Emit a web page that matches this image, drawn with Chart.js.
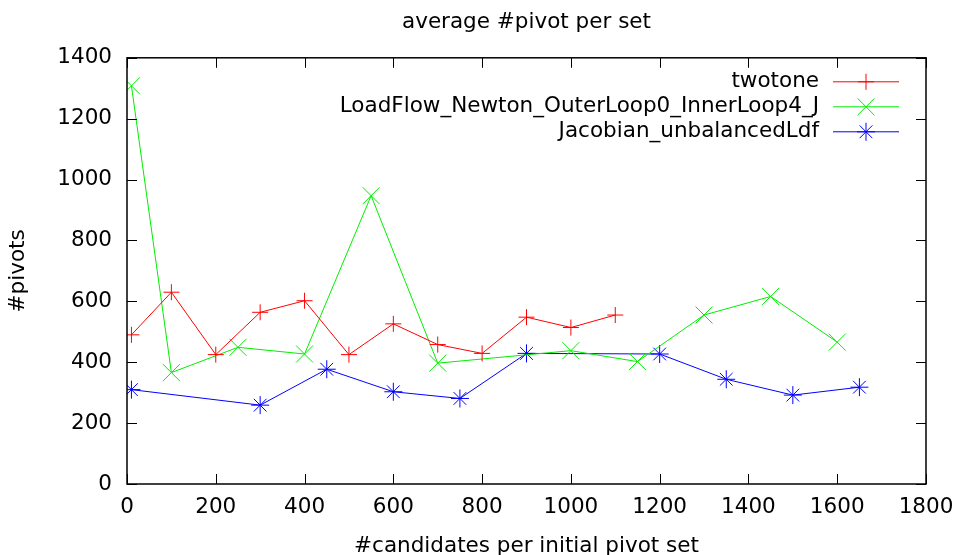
<!DOCTYPE html>
<html>
<head>
<meta charset="utf-8">
<title>average #pivot per set</title>
<script src="https://cdn.jsdelivr.net/npm/chart.js@4/dist/chart.umd.min.js"></script>
<style>
  html, body { margin: 0; padding: 0; background: #fff; }
  canvas { display: block; }
</style>
</head>
<body>
<canvas id="pivotChart" width="958" height="555"></canvas>
<script>
/* average #pivot per set */
var xTwotone = [10, 100, 200, 300, 400, 500, 600, 700, 800, 900, 1000, 1100];
var yTwotone = [490, 630, 425, 564, 602, 425, 526, 458, 429, 548, 514, 555];

var xLoadFlow = [10, 100, 250, 400, 550, 700, 1000, 1150, 1300, 1450, 1600];
var yLoadFlow = [1308, 366, 449, 427, 947, 397, 438, 402, 555, 616, 466];

var xJacobian = [10, 300, 450, 600, 750, 900, 1200, 1350, 1500, 1650];
var yJacobian = [310, 259, 377, 303, 281, 429, 427, 344, 292, 318];

var seriesNames = ["twotone", "LoadFlow_Newton_OuterLoop0_InnerLoop4_J", "Jacobian_unbalancedLdf"];

var xMax = 1800, yMax = 1400, tickStep = 200;

var fontFamily = "'DejaVu Sans', sans-serif";
var fontSize = 21.5;

function toPoints(xs, ys) {
    var pts = [];
    for (var i in xs) {
        pts.push({ x: xs[i], y: ys[i] });
    }
    return pts;
}

// plain numbers, no thousands separator
function plainTick(value) {
    return String(value);
}

// gnuplot style: closed box, inward ticks on all sides, key top right
var gnuFrame = {
    id: 'gnuFrame',
    afterDraw: function (chart) {
        var ctx = chart.ctx;
        var a = chart.chartArea;
        var sx = chart.scales.x, sy = chart.scales.y;
        var tl = 10;
        ctx.save();
        ctx.strokeStyle = '#000';
        ctx.lineWidth = 1;
        ctx.beginPath();
        sx.ticks.forEach(function (t) {
            var px = Math.round(sx.getPixelForValue(t.value)) + 0.5;
            ctx.moveTo(px, a.bottom); ctx.lineTo(px, a.bottom - tl);
            ctx.moveTo(px, a.top); ctx.lineTo(px, a.top + tl);
        });
        sy.ticks.forEach(function (t) {
            var py = Math.round(sy.getPixelForValue(t.value)) + 0.5;
            ctx.moveTo(a.left, py); ctx.lineTo(a.left + tl, py);
            ctx.moveTo(a.right, py); ctx.lineTo(a.right - tl, py);
        });
        ctx.stroke();
        ctx.lineWidth = 1.5;
        ctx.strokeRect(a.left, a.top, a.right - a.left, a.bottom - a.top);

        // key
        ctx.font = fontSize + "px " + fontFamily;
        ctx.textAlign = 'right';
        ctx.textBaseline = 'middle';
        chart.data.datasets.forEach(function (ds, i) {
            var ry = a.top + 24 + i * 25;
            ctx.fillStyle = '#000';
            ctx.fillText(ds.label, a.right - 107, ry);
            ctx.strokeStyle = ds.borderColor;
            ctx.lineWidth = 1;
            ctx.beginPath();
            ctx.moveTo(a.right - 93, ry);
            ctx.lineTo(a.right - 27, ry);
            ctx.stroke();
            ctx.fillStyle = ds.borderColor;
            Chart.helpers.drawPoint(ctx, {
                pointStyle: ds.pointStyle,
                radius: ds.pointRadius,
                rotation: 0,
                borderWidth: 1
            }, a.right - 60, ry);
        });
        ctx.restore();
    }
};

var chartdata = {
    datasets: [
        {
            label: seriesNames[0],
            data: toPoints(xTwotone, yTwotone),
            borderColor: '#ff0000',
            backgroundColor: '#ff0000',
            pointStyle: 'cross',
            pointRadius: 8,
            pointBorderWidth: 1,
            borderWidth: 1
        },
        {
            label: seriesNames[1],
            data: toPoints(xLoadFlow, yLoadFlow),
            borderColor: '#00ee00',
            backgroundColor: '#00ee00',
            pointStyle: 'crossRot',
            pointRadius: 12,
            pointBorderWidth: 1,
            borderWidth: 1
        },
        {
            label: seriesNames[2],
            data: toPoints(xJacobian, yJacobian),
            borderColor: '#0000ff',
            backgroundColor: '#0000ff',
            pointStyle: 'star',
            pointRadius: 9,
            pointBorderWidth: 1,
            borderWidth: 1
        }
    ]
};

var pivotChart = new Chart(document.getElementById('pivotChart'), {
    type: 'line',
    data: chartdata,
    plugins: [gnuFrame],
    options: {
        responsive: false,
        animation: false,
        events: [],
        layout: { padding: { left: 0, right: 32, top: 0, bottom: 0 } },
        elements: { line: { tension: 0, fill: false } },
        plugins: {
            legend: { display: false },
            tooltip: { enabled: false },
            title: {
                display: true,
                text: 'average #pivot per set',
                color: '#000',
                fullSize: false,
                font: { family: fontFamily, size: fontSize, weight: 'normal' },
                padding: { top: 10, bottom: 22 }
            }
        },
        scales: {
            x: {
                type: 'linear',
                min: 0,
                max: xMax,
                grid: { display: false, drawTicks: false },
                border: { display: false },
                ticks: {
                    stepSize: tickStep,
                    color: '#000',
                    padding: 11,
                    maxRotation: 0,
                    callback: plainTick,
                    font: { family: fontFamily, size: fontSize }
                },
                title: {
                    display: true,
                    text: '#candidates per initial pivot set',
                    color: '#000',
                    font: { family: fontFamily, size: fontSize },
                    padding: { top: 0, bottom: -4 }
                },
                afterFit: function (scale) {
                    scale.height = 71;
                    scale.paddingLeft = 0;
                    scale.paddingRight = 0;
                }
            },
            y: {
                min: 0,
                max: yMax,
                grid: { display: false, drawTicks: false },
                border: { display: false },
                ticks: {
                    stepSize: tickStep,
                    color: '#000',
                    padding: 15,
                    callback: plainTick,
                    font: { family: fontFamily, size: fontSize }
                },
                title: {
                    display: true,
                    text: '#pivots',
                    color: '#000',
                    font: { family: fontFamily, size: fontSize },
                    padding: { top: 6, bottom: 0 }
                },
                afterFit: function (scale) { scale.width = 127; }
            }
        }
    }
});
</script>
</body>
</html>
